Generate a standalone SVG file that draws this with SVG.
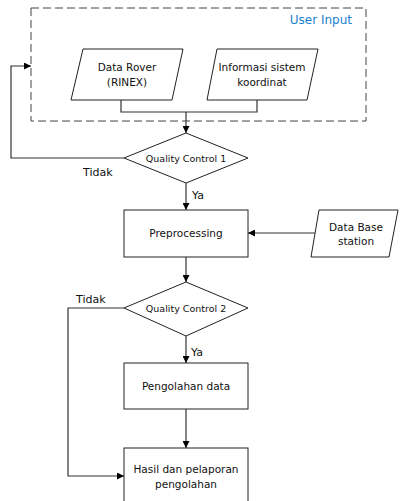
<svg xmlns="http://www.w3.org/2000/svg" width="400" height="501" viewBox="0 0 400 501">
<defs>
<marker id="arr" viewBox="0 0 10 10" refX="10" refY="5" markerWidth="7" markerHeight="7" markerUnits="userSpaceOnUse" orient="auto">
<path d="M0,0 L10,5 L0,10 z" fill="#000"/>
</marker>
<style>
.shape{fill:#fff;stroke:#222;stroke-width:1}
.line{fill:none;stroke:#333;stroke-width:1.2}
.t{font-family:"DejaVu Sans",Verdana,sans-serif;font-size:10.5px;fill:#111;text-anchor:middle;dominant-baseline:central}
.s{font-size:9.5px}
.lbl{font-family:"DejaVu Sans",Verdana,sans-serif;font-size:11px;fill:#111;dominant-baseline:central}
</style>
</defs>
<rect width="400" height="501" fill="#fff"/>
<g id="user-input">
<rect x="31" y="8" width="335" height="113" fill="none" stroke="#444" stroke-width="1" stroke-dasharray="8,4"/>
<text x="352" y="20" text-anchor="end" font-family="DejaVu Sans,Verdana,sans-serif" font-size="12px" fill="#1a7fd1" dominant-baseline="central">User Input</text>
</g>
<g id="data-rover">
<polygon class="shape" points="83,49 183,49 172,100 71,100"/>
<text class="t" x="127" y="67">Data Rover</text>
<text class="t" x="127" y="82">(RINEX)</text>
</g>
<g id="info-sistem">
<polygon class="shape" points="217,49 318,49 307,100 207,100"/>
<text class="t" x="262" y="67">Informasi sistem</text>
<text class="t" x="262" y="82">koordinat</text>
</g>
<g id="qc1">
<polygon class="shape" points="186,133 248,158 186,183 124,158"/>
<text class="t s" x="186" y="158">Quality Control 1</text>
</g>
<g id="preprocessing">
<rect class="shape" x="124" y="210" width="124" height="47"/>
<text class="t" x="186" y="233">Preprocessing</text>
</g>
<g id="database">
<polygon class="shape" points="319,210 398,210 389,257 311,257"/>
<text class="t" x="356" y="227">Data Base</text>
<text class="t" x="356" y="241">station</text>
</g>
<g id="qc2">
<polygon class="shape" points="186,282 248,308 186,336 124,308"/>
<text class="t s" x="186" y="308">Quality Control 2</text>
</g>
<g id="pengolahan">
<rect class="shape" x="124" y="363" width="124" height="46"/>
<text class="t" x="186" y="386">Pengolahan data</text>
</g>
<g id="hasil">
<rect class="shape" x="124" y="448" width="124" height="60"/>
<text class="t" x="186" y="469">Hasil dan pelaporan</text>
<text class="t" x="186" y="484">pengolahan</text>
</g>
<g id="connectors">
<polyline class="line" points="121,100 121,112 257,112 257,100"/>
<line class="line" x1="186" y1="112" x2="186" y2="133" marker-end="url(#arr)"/>
<polyline class="line" points="124,158 11,158 11,66 31,66" marker-end="url(#arr)"/>
<line class="line" x1="186" y1="183" x2="186" y2="210" marker-end="url(#arr)"/>
<line class="line" x1="315" y1="233" x2="248" y2="233" marker-end="url(#arr)"/>
<line class="line" x1="186" y1="257" x2="186" y2="282" marker-end="url(#arr)"/>
<line class="line" x1="186" y1="336" x2="186" y2="363" marker-end="url(#arr)"/>
<polyline class="line" points="124,308 68,308 68,476 124,476" marker-end="url(#arr)"/>
<line class="line" x1="186" y1="409" x2="186" y2="448" marker-end="url(#arr)"/>
<text class="lbl" x="83" y="172">Tidak</text>
<text class="lbl" x="192" y="195">Ya</text>
<text class="lbl" x="76" y="299">Tidak</text>
<text class="lbl" x="191" y="352">Ya</text>
</g>
</svg>
